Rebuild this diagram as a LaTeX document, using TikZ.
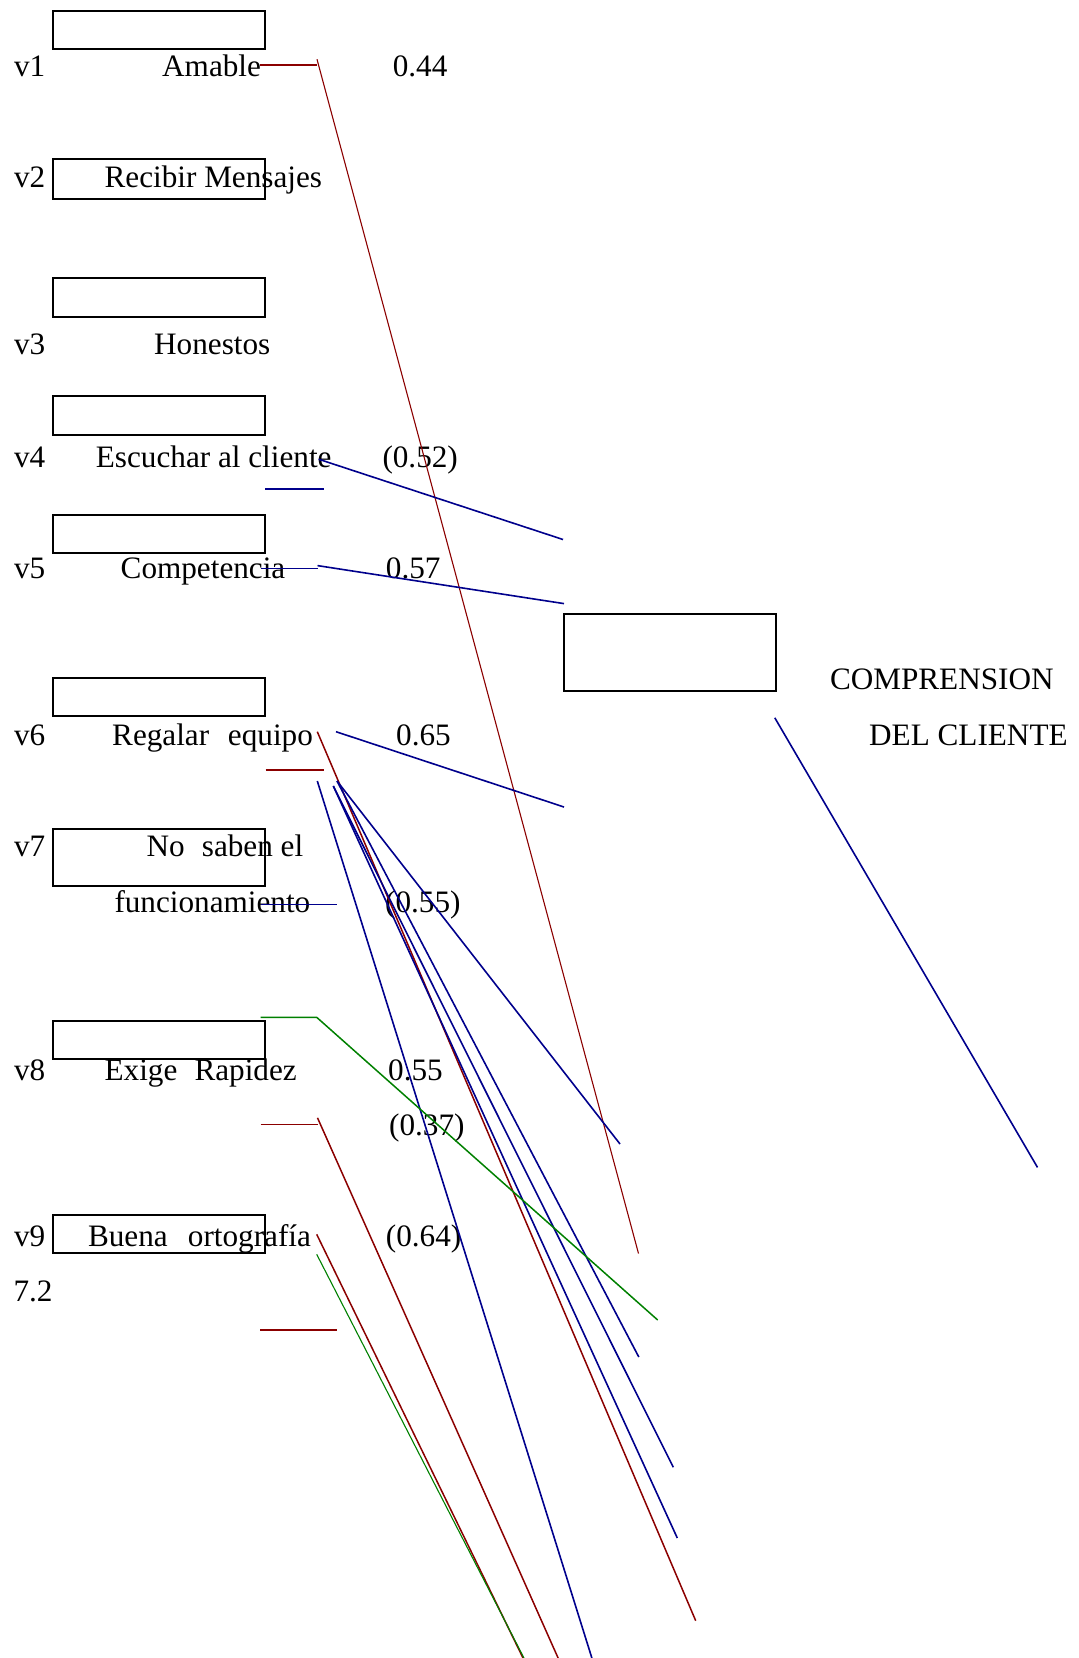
\documentclass[tikz,border=0pt]{standalone}
\usepackage{fontspec}
\setmainfont{Liberation Serif}
\usetikzlibrary{positioning}

\definecolor{lred}{RGB}{139,0,0}
\definecolor{lblue}{RGB}{0,0,140}
\definecolor{lgreen}{RGB}{0,128,0}

\begin{document}
\begin{tikzpicture}[
	x=1pt, y=-1pt,
	box/.style={rectangle, draw=black, line width=1.6pt, anchor=north west, minimum width=212pt, inner sep=0pt},
	txt/.style={anchor=base west, inner sep=0pt, font=\fontsize{31.2}{36}\selectfont},
	redl/.style={draw=lred, line width=1.5pt},
	thinred/.style={draw=lred, line width=1.1pt},
	bluel/.style={draw=lblue, line width=1.6pt},
	greenl/.style={draw=lgreen, line width=1.5pt},
	thingreen/.style={draw=lgreen, line width=1.1pt}
	]
	\useasboundingbox (0,0) rectangle (1079,1658);

		\node (box1) [box, minimum height=38pt] at (52,10) {};
		\node (box2) [box, minimum height=40pt] at (52,158) {};
		\node (box3) [box, minimum height=39pt] at (52,277) {};
		\node (box4) [box, minimum height=39pt] at (52,395) {};
		\node (box5) [box, minimum height=38pt] at (52,514) {};
		\node (box6) [box, minimum height=38pt] at (52,677) {};
		\node (box7) [box, minimum height=57pt] at (52,828) {};
		\node (box8) [box, minimum height=38pt] at (52,1020) {};
		\node (box9) [box, minimum height=38pt] at (52,1214) {};
		\node (boxcc) [box, minimum height=77pt] at (563,613) {};

		\node (v1) [txt] at (13.8,76.5) {v1};
		\node (amable) [txt] at (162,76.5) {Amable};
		\node (w1) [txt] at (392.6,76.5) {0.44};
		\node (v2) [txt] at (13.8,187.5) {v2};
		\node (mensajes) [txt] at (104.4,187.5) {Recibir Mensajes};
		\node (v3) [txt] at (13.8,354) {v3};
		\node (honestos) [txt] at (154,354) {Honestos};
		\node (v4) [txt] at (13.8,467) {v4};
		\node (escuchar) [txt] at (95.7,467) {Escuchar al cliente};
		\node (w4) [txt] at (382.3,467) {(0.52)};
		\node (v5) [txt] at (13.8,578) {v5};
		\node (competencia) [txt] at (120.5,578) {Competencia};
		\node (w5) [txt] at (385.7,578) {0.57};
		\node (comp1) [txt] at (829.8,689.7) {COMPRENSION};
		\node (comp2) [txt] at (869,745.5) {DEL CLIENTE};
		\node (v6) [txt] at (13.8,745) {v6};
		\node (regalar) [txt] at (112,745) {Regalar\hspace{0.6em}equipo};
		\node (w6) [txt] at (396,745) {0.65};
		\node (v7) [txt] at (13.8,856.7) {v7};
		\node (nosaben) [txt] at (146.4,856.7) {No\hspace{0.55em}saben el};
		\node (funcion) [txt] at (114.3,912.5) {funcionamiento};
		\node (w7) [txt] at (385,912.5) {(0.55)};
		\node (v8) [txt] at (13.8,1080) {v8};
		\node (rapidez) [txt] at (104.4,1080) {Exige\hspace{0.55em}Rapidez};
		\node (w8) [txt] at (388,1080) {0.55};
		\node (w8b) [txt] at (389,1135.7) {(0.37)};
		\node (v9) [txt] at (13.8,1246) {v9};
		\node (ortografia) [txt] at (87.8,1246) {Buena\hspace{0.65em}ortografía};
		\node (w9) [txt] at (385.7,1246) {(0.64)};
		\node (total) [txt] at (13.3,1301.7) {7.2};

		\coordinate (a1) at (260,65);
		\coordinate (a2) at (317,65);
		\coordinate (a3) at (317,59.3);
		\coordinate (a4) at (638.5,1253.5);
		\coordinate (b1) at (318.6,459.2);
		\coordinate (b2) at (563,539.5);
		\coordinate (b3) at (265,489);
		\coordinate (b4) at (323.7,489);
		\coordinate (c1) at (260.7,568.3);
		\coordinate (c2) at (317.5,568.3);
		\coordinate (c3) at (317.5,565.6);
		\coordinate (c4) at (564,603.6);
		\coordinate (d1) at (774.8,717.8);
		\coordinate (d2) at (1037.5,1167.4);
		\coordinate (e1) at (317.3,731.7);
		\coordinate (e2) at (695.7,1620.7);
		\coordinate (e3) at (336,731.7);
		\coordinate (e4) at (564,807);
		\coordinate (e5) at (265.5,770);
		\coordinate (e6) at (323.5,770);
		\coordinate (f1) at (317.3,781);
		\coordinate (f2) at (592.5,1660);
		\coordinate (f3) at (337,781);
		\coordinate (f4) at (333.3,786);
		\coordinate (f5) at (620,1144);
		\coordinate (f6) at (638.8,1357);
		\coordinate (f7) at (673.3,1467.3);
		\coordinate (f8) at (677.3,1538);
		\coordinate (g1) at (260.7,904.5);
		\coordinate (g2) at (336.8,904.5);
		\coordinate (h1) at (260.7,1017.4);
		\coordinate (h2) at (316.8,1017.4);
		\coordinate (h3) at (657.7,1320);
		\coordinate (k1) at (260.7,1124.5);
		\coordinate (k2) at (317.5,1124.5);
		\coordinate (k3) at (317.5,1117.8);
		\coordinate (k4) at (559,1660);
		\coordinate (m1) at (316.7,1234.3);
		\coordinate (m2) at (524,1660);
		\coordinate (m3) at (316.7,1254.3);
		\coordinate (m4) at (525,1660);
		\coordinate (n1) at (260,1330);
		\coordinate (n2) at (336.7,1330);

	\draw [thinred] (a1)--(a2);
	\draw [thinred] (a3)--(a4);

	\draw [bluel] (b1)--(b2);
	\draw [bluel] (b3)--(b4);
	\draw [bluel] (c1)--(c2);
	\draw [bluel] (c3)--(c4);
	\draw [bluel] (d1)--(d2);

	\draw [redl] (e1)--(e2);
	\draw [bluel] (e3)--(e4);
	\draw [redl] (e5)--(e6);

	\draw [bluel] (f1)--(f2);
	\draw [bluel] (f3)--(f5);
	\draw [bluel] (f3)--(f6);
	\draw [bluel] (f4)--(f7);
	\draw [bluel] (f4)--(f8);
	\draw [bluel] (g1)--(g2);

	\draw [greenl] (h1)--(h2)--(h3);

	\draw [redl] (k1)--(k2);
	\draw [redl] (k3)--(k4);

	\draw [redl] (m1)--(m2);
	\draw [thingreen] (m3)--(m4);
	\draw [redl] (n1)--(n2);

	\end{tikzpicture}
\end{document}
